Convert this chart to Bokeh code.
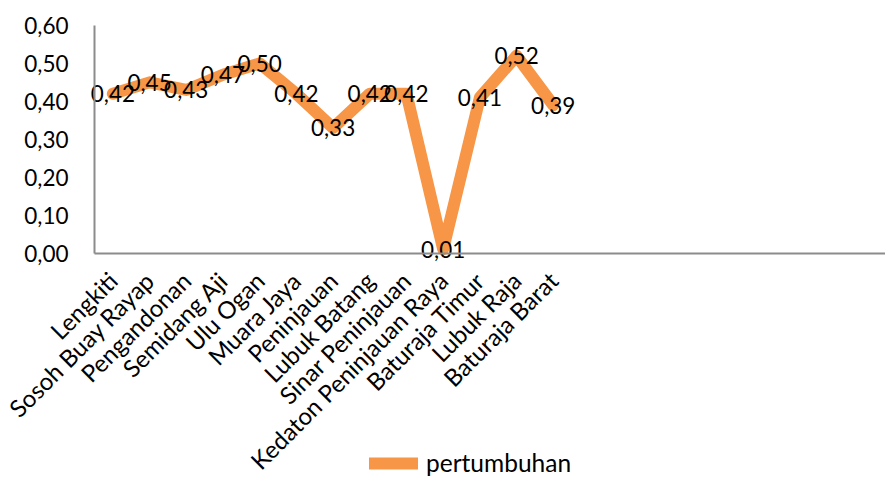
import math
from bokeh.plotting import figure
from bokeh.models import ColumnDataSource, FixedTicker, CustomJSTickFormatter, Legend, LegendItem, Range1d
from bokeh.core.properties import value
from bokeh.embed import file_html
from bokeh.resources import INLINE

categories = ["Lengkiti", "Sosoh Buay Rayap", "Pengandonan", "Semidang Aji", "Ulu Ogan",
              "Muara Jaya", "Peninjauan", "Lubuk Batang", "Sinar Peninjauan",
              "Kedaton Peninjauan Raya", "Baturaja Timur", "Lubuk Raja", "Baturaja Barat"]
values = [0.42, 0.45, 0.43, 0.47, 0.50, 0.42, 0.33, 0.42, 0.42, 0.01, 0.41, 0.52, 0.39]
y_ticks = [0.0, 0.1, 0.2, 0.3, 0.4, 0.5, 0.6]
series_name = "pertumbuhan"

FONT = "Lato"
ORANGE = "#F79646"
AXIS_GRAY = "#8c8c8c"

# layout geometry (pixels)
W, H = 885, 477
AXIS_LEFT_PX = 94        # pixel column of the left edge of the first category slot
TOP_PX = 25              # pixel row of y = 0.60
ZERO_PX = 252.5          # pixel row of y = 0
CAT_PX = 36.7            # pixel width of one category slot

y_max = max(y_ticks)
px_per_unit = (ZERO_PX - TOP_PX) / y_max
y_lo = -(H - ZERO_PX) / px_per_unit
y_hi = y_max + TOP_PX / px_per_unit
x_lo = -0.5 - AXIS_LEFT_PX / CAT_PX
x_hi = -0.5 + (W - AXIS_LEFT_PX) / CAT_PX

xs = list(range(len(categories)))
labels = [f"{v:.2f}".replace(".", ",") for v in values]
src = ColumnDataSource(dict(x=xs, y=values, lab=labels))

p = figure(width=W, height=H, output_backend="svg", toolbar_location=None,
           x_range=Range1d(x_lo, x_hi), y_range=Range1d(y_lo, y_hi),
           min_border_left=0, min_border_right=0, min_border_top=0, min_border_bottom=0)
p.outline_line_color = None
p.background_fill_color = "white"
p.border_fill_color = "white"
p.xgrid.visible = False
p.ygrid.visible = False

r = p.line("x", "y", source=src, line_color=ORANGE, line_width=12,
           line_join="round", line_cap="round")

p.text("x", "y", text="lab", source=src, text_align="center", text_baseline="middle",
       text_font=value(FONT), text_font_size="22.5px", text_color="black")

# y axis, drawn at the left edge of the first slot
p.yaxis.fixed_location = -0.5
p.yaxis.ticker = FixedTicker(ticks=y_ticks)
p.yaxis.bounds = (0, y_max)
p.yaxis.formatter = CustomJSTickFormatter(code="return tick.toFixed(2).replace('.', ',');")
p.yaxis.major_tick_line_color = None
p.yaxis.minor_tick_line_color = None
p.yaxis.major_tick_out = 0
p.yaxis.major_tick_in = 0
p.yaxis.major_label_standoff = 26
p.yaxis.axis_line_color = AXIS_GRAY
p.yaxis.axis_line_width = 2
p.yaxis.major_label_text_font = FONT
p.yaxis.major_label_text_font_size = "22.5px"
p.yaxis.major_label_text_color = "black"

# x axis drawn at y = 0
p.xaxis.fixed_location = 0
p.xaxis.bounds = (-0.5, x_hi)
p.xaxis.ticker = FixedTicker(ticks=xs)
p.xaxis.major_label_overrides = {i: c for i, c in zip(xs, categories)}
p.xaxis.major_label_orientation = math.pi / 4
p.xaxis.major_tick_line_color = None
p.xaxis.minor_tick_line_color = None
p.xaxis.major_tick_out = 0
p.xaxis.major_tick_in = 0
p.xaxis.major_label_standoff = 23
p.xaxis.axis_line_color = AXIS_GRAY
p.xaxis.axis_line_width = 2
p.xaxis.major_label_text_font = FONT
p.xaxis.major_label_text_font_size = "24px"
p.xaxis.major_label_text_color = "black"

legend = Legend(items=[LegendItem(label=series_name, renderers=[r])],
                location=(369, 0), orientation="horizontal",
                glyph_width=49, glyph_height=20, label_standoff=8,
                padding=0, margin=0, spacing=0, border_line_color=None, background_fill_alpha=0,
                label_text_font=FONT, label_text_font_size="24.5px", label_text_color="black")
p.add_layout(legend, "center")

open("out.html", "w").write(file_html(p, INLINE))
